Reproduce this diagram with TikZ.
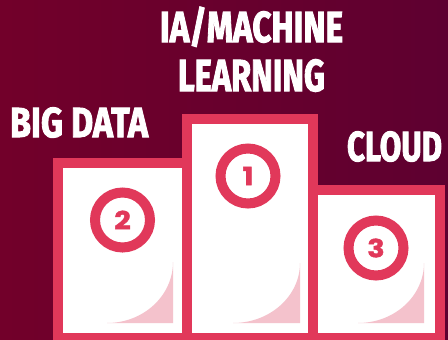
\documentclass[tikz,border=0pt]{standalone}
\usepackage{fontspec}
\usepackage{graphicx}
\setmainfont{Fira Sans}
\newfontfamily\lblfont{Fira Sans}[UprightFont={* Bold}, FakeBold=2.5]
\newfontfamily\digitfont{Poppins}[UprightFont={* Bold}, FakeBold=1.5]
\definecolor{bgL}{HTML}{72002A}
\definecolor{bgR}{HTML}{5E0030}
\definecolor{podred}{HTML}{E1385A}
\definecolor{podpink}{HTML}{F4C2CC}
\newcommand{\lbltext}[3]{\resizebox{#1pt}{#2pt}{\lblfont\smash{#3}\vphantom{I}}}
\tikzset{
  podium/.style={rectangle, draw=podred, line width=10pt, fill=white, inner sep=0pt, outer sep=0pt, anchor=north west},
  badge/.style={circle, draw=podred, line width=10pt, fill=white, minimum size=55pt, inner sep=0pt,
    text=podred, font=\digitfont\fontsize{25}{25}\selectfont},
  lbl/.style={anchor=north west, inner sep=0pt, outer sep=0pt, text=white},
  curl/.style={fill=podpink}
}
\begin{document}
\begin{tikzpicture}[x=1pt,y=-1pt]
\useasboundingbox (0,0) rectangle (448,340);
\shade[left color=bgL, right color=bgR] (0,0) rectangle (448,340);
\begin{scope}
\clip (0,0) rectangle (448,340);
\node[podium, minimum width=128.5pt, minimum height=175pt] (box2) at (58,163) {};
\node[podium, minimum width=126pt, minimum height=219pt] (box1) at (186.5,119) {};
\node[podium, minimum width=127pt, minimum height=148.5pt] (box3) at (312.5,189.5) {};
\end{scope}
% page curls
\fill[curl] (107,323) .. controls (143.5,323) and (173,295.7) .. (173,262) -- (173,323) -- cycle;
\fill[curl] (233,323) .. controls (270,323) and (300,296.1) .. (300,263) -- (300,323) -- cycle;
\fill[curl] (358,323) .. controls (394.5,323) and (424,296.1) .. (424,263) -- (424,323) -- cycle;
% badges
\node[badge] (c1) at (248,176) {\scalebox{1.15}[1]{1}};
\node[badge] (c2) at (122.5,220) {\scalebox{1.15}[1]{2}};
\node[badge] (c3) at (376,248) {\scalebox{1.15}[1]{3}};
% labels
\node[lbl] (ia) at (160,12) {\lbltext{183}{30}{IA/MACHINE}};
\node[lbl] (ml) at (178,60) {\lbltext{147}{31}{LEARNING}};
\node[lbl] (bd) at (10,108) {\lbltext{138}{29}{BIG DATA}};
\node[lbl] (cl) at (347,132) {\lbltext{95}{29}{CLOUD}};
\end{tikzpicture}
\end{document}
